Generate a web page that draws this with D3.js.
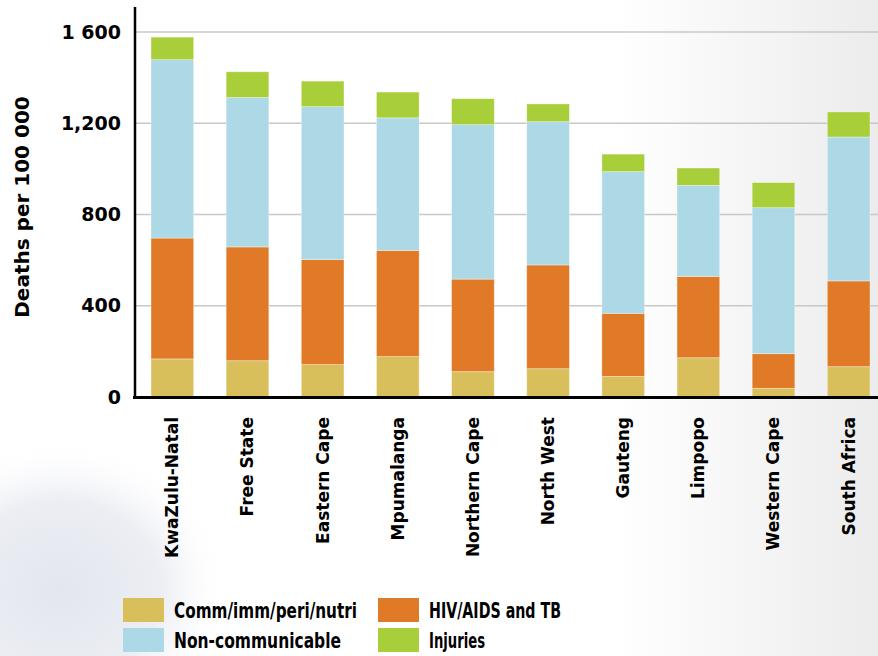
<!DOCTYPE html>
<meta charset="utf-8">
<script src="https://cdn.jsdelivr.net/npm/d3@7"></script>
<style>
body { margin: 0; background: #fff; }
text { font-family: "DejaVu Sans", sans-serif; font-weight: bold; fill: #000; }
</style>
<body>
<script>

// provinces, left to right
var provinces = ["KwaZulu-Natal", "Free State", "Eastern Cape", "Mpumalanga", "Northern Cape",
                 "North West", "Gauteng", "Limpopo", "Western Cape", "South Africa"];

// deaths per 100 000 by cause group
var commImmPeriNutri = [167, 159, 142, 177, 111, 124,  90, 172,  38, 133];
var hivAidsTb        = [530, 499, 461, 466, 406, 455, 277, 357, 152, 376];
var nonCommunicable  = [782, 655, 670, 581, 677, 628, 621, 399, 640, 631];
var injuries         = [ 99, 113, 112, 113, 114,  78,  77,  76, 110, 110];

var seriesNames = ["Comm/imm/peri/nutri", "HIV/AIDS and TB", "Non-communicable", "Injuries"];
var seriesColors = ["#d9bf5c", "#e07a26", "#add8e6", "#a8ce3a"];

var yTicks = [0, 400, 800, 1200, 1600];
var yTickLabels = ["0", "400", "800", "1,200", "1 600"];

var width = 878, height = 656;

var svg = d3.select("body").append("svg")
    .attr("width", width)
    .attr("height", height);

// faint slide backdrop: grey fade on the right, bluish smudge bottom left
var defs = svg.append("defs");
var grad = defs.append("linearGradient").attr("id", "bg")
    .attr("x1", 0).attr("x2", 1).attr("y1", 0).attr("y2", 0);
grad.append("stop").attr("offset", "0.7").attr("stop-color", "#ffffff");
grad.append("stop").attr("offset", "1").attr("stop-color", "#ececec");
var blob = defs.append("radialGradient").attr("id", "blob");
blob.append("stop").attr("offset", "0").attr("stop-color", "#e4e6ee");
blob.append("stop").attr("offset", "0.6").attr("stop-color", "#eceef4");
blob.append("stop").attr("offset", "1").attr("stop-color", "#ffffff").attr("stop-opacity", 0);
svg.append("rect").attr("width", width).attr("height", height).attr("fill", "url(#bg)");
svg.append("ellipse")
    .attr("cx", 60).attr("cy", 590).attr("rx", 170).attr("ry", 150)
    .attr("fill", "url(#blob)");

var rows = provinces.map(function(p, i) {
  return {
    name: p,
    "Comm/imm/peri/nutri": commImmPeriNutri[i],
    "HIV/AIDS and TB": hivAidsTb[i],
    "Non-communicable": nonCommunicable[i],
    "Injuries": injuries[i]
  };
});

var stack = d3.stack().keys(seriesNames)(rows);

var x = d3.scaleBand()
    .domain(provinces)
    .range([135, 886])
    .paddingInner(0.432)
    .paddingOuter(0.213);

var y = d3.scaleLinear()
    .domain([0, 1710])
    .range([397, 7]);

// gridlines
svg.append("g")
  .selectAll("line")
  .data(yTicks.filter(function(d) { return d > 0; }))
  .enter().append("line")
    .attr("x1", 135).attr("x2", width)
    .attr("y1", function(d) { return y(d); })
    .attr("y2", function(d) { return y(d); })
    .attr("stroke", "#c8c8c8")
    .attr("stroke-width", 1.5);

// bars
svg.append("g")
  .selectAll("g")
  .data(stack)
  .enter().append("g")
    .attr("fill", function(d, i) { return seriesColors[i]; })
  .selectAll("rect")
  .data(function(d) { return d; })
  .enter().append("rect")
    .attr("x", function(d) { return x(d.data.name); })
    .attr("width", x.bandwidth())
    .attr("y", function(d) { return y(d[1]); })
    .attr("height", function(d) { return y(d[0]) - y(d[1]); })
    .attr("stroke", "#ffffff")
    .attr("stroke-opacity", 0.45)
    .attr("stroke-width", 0.8);

// y axis
var yAxis = d3.axisLeft(y)
    .tickValues(yTicks)
    .tickSize(0)
    .tickPadding(14)
    .tickFormat(function(d, i) { return yTickLabels[i]; });

var gy = svg.append("g")
    .attr("transform", "translate(135,0)")
    .call(yAxis);
gy.select(".domain").remove();
gy.selectAll("text")
    .style("font-size", "19px")
    .style("font-family", "'DejaVu Sans', sans-serif")
    .style("font-weight", "bold")
    .attr("fill", "#000");

svg.append("line")
    .attr("x1", 135).attr("x2", 135)
    .attr("y1", y.range()[1]).attr("y2", 398)
    .attr("stroke", "#000").attr("stroke-width", 2.5);

// x axis
var xAxis = d3.axisBottom(x).tickSize(0).tickPadding(0);
var gx = svg.append("g")
    .attr("transform", "translate(0,397)")
    .call(xAxis);
gx.select(".domain").remove();
gx.selectAll("text")
    .attr("transform", "rotate(-90)")
    .attr("text-anchor", "end")
    .attr("x", -20)
    .attr("y", 0)
    .attr("dy", "0.35em")
    .style("font-size", "17px")
    .style("font-family", "'DejaVu Sans', sans-serif")
    .style("font-weight", "bold")
    .attr("fill", "#000");

svg.append("line")
    .attr("x1", 133).attr("x2", width)
    .attr("y1", 397.5).attr("y2", 397.5)
    .attr("stroke", "#000").attr("stroke-width", 3);

// y axis title
svg.append("text")
    .attr("transform", "translate(29,207) rotate(-90)")
    .attr("text-anchor", "middle")
    .style("font-size", "20px")
    .text("Deaths per 100 000");

// legend
var legendPos = [
  {x: 123, y: 598},
  {x: 378, y: 598},
  {x: 123, y: 628},
  {x: 378, y: 628}
];
var legendWidths = [183, 132, 167, 56];

var legend = svg.append("g")
  .selectAll("g")
  .data(seriesNames)
  .enter().append("g")
    .attr("transform", function(d, i) { return "translate(" + legendPos[i].x + "," + legendPos[i].y + ")"; });

legend.append("rect")
    .attr("width", 41)
    .attr("height", 24)
    .attr("fill", function(d, i) { return seriesColors[i]; });

legend.append("text")
    .attr("x", 51)
    .attr("y", 20)
    .attr("textLength", function(d, i) { return legendWidths[i]; })
    .attr("lengthAdjust", "spacingAndGlyphs")
    .style("font-size", "22px")
    .text(function(d) { return d; });

</script>
</body>
